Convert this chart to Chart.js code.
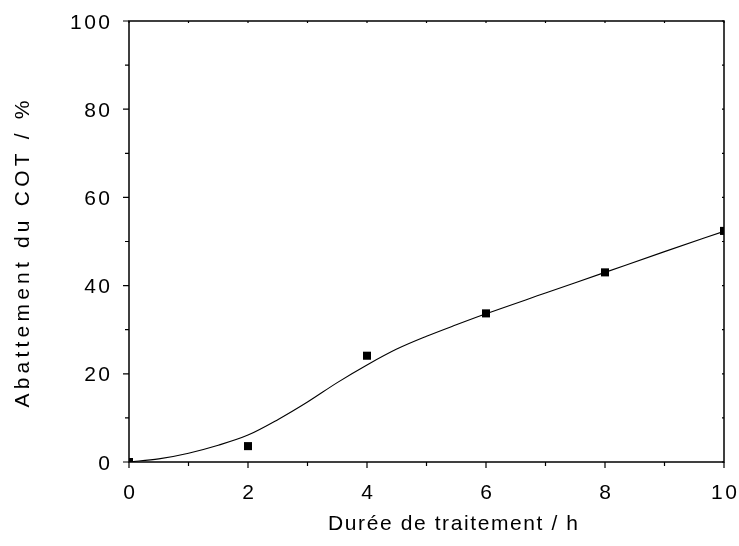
<!DOCTYPE html>
<html>
<head>
<meta charset="utf-8">
<script src="https://cdn.jsdelivr.net/npm/chart.js@4"></script>
<style>
  html, body { margin: 0; padding: 0; background: #fff; }
  #wrap { width: 739px; height: 546px; }
</style>
</head>
<body>
<div id="wrap"><canvas id="cotChart"></canvas></div>
<script>
// MESURES (points)
const dureeH = [0, 2, 4, 6, 8, 10];
const abattement = [0, 3.6, 24.1, 33.7, 43.0, 52.4];

// COURBE D'AJUSTEMENT
const fitX = [0, 0.5, 1, 1.5, 2, 2.5, 3, 3.5, 4, 4.5, 5, 5.5, 6, 7, 8, 9, 10];
const fitY = [0, 0.7, 2.0, 3.8, 6.1, 9.6, 13.6, 18.0, 22.0, 25.6, 28.5, 31.1, 33.6, 38.3, 43.0, 47.7, 52.3];

// AXES
const xTicks = [0, 2, 4, 6, 8, 10];
const xMinor = [1, 3, 5, 7, 9];
const yTicks = [0, 20, 40, 60, 80, 100];
const yMinor = [10, 30, 50, 70, 90];

const FONT = '"Liberation Sans", Arial, sans-serif';

// texte avec espacement des lettres, ancrage sur l'encre
function spacedText(ctx, txt, x, y, align, spacing) {
  ctx.letterSpacing = spacing + 'px';
  const w = ctx.measureText(txt).width - spacing;
  let x0 = x;
  if (align === 'center') x0 = x - w / 2;
  if (align === 'right') x0 = x - w;
  ctx.textAlign = 'left';
  ctx.fillText(txt, x0, y);
}

// cadre + graduations + libellés + titres d'axes
const framePlugin = {
  id: 'frame',
  afterDraw(chart) {
    const { ctx, chartArea: a, scales: { x, y } } = chart;
    ctx.save();
    ctx.strokeStyle = '#000';
    ctx.lineWidth = 1.5;
    ctx.strokeRect(a.left, a.top, a.right - a.left, a.bottom - a.top);

    ctx.lineWidth = 1.2;
    ctx.beginPath();
    const tickX = (vals, len, inLen) => {
      vals.forEach(v => {
        const px = x.getPixelForValue(v);
        ctx.moveTo(px, a.bottom); ctx.lineTo(px, a.bottom + len);
        ctx.moveTo(px, a.top); ctx.lineTo(px, a.top + inLen);
      });
    };
    const tickY = (vals, len, inLen) => {
      vals.forEach(v => {
        const py = y.getPixelForValue(v);
        ctx.moveTo(a.left, py); ctx.lineTo(a.left - len, py);
        ctx.moveTo(a.right, py); ctx.lineTo(a.right - inLen, py);
      });
    };
    tickX(xTicks, 6, 2);
    tickX(xMinor, 4, 2);
    tickY(yTicks, 6, 2);
    tickY(yMinor, 4, 2);
    ctx.stroke();

    ctx.fillStyle = '#000';
    ctx.textBaseline = 'alphabetic';
    ctx.font = '21px ' + FONT;
    xTicks.forEach(v => spacedText(ctx, String(v), x.getPixelForValue(v), 499, 'center', 2.5));
    yTicks.forEach(v => spacedText(ctx, String(v), 110, y.getPixelForValue(v) + 7.5, 'right', 2.5));

    // titres
    ctx.font = '21px ' + FONT;
    spacedText(ctx, 'Durée de traitement / h', 453, 530, 'center', 1.6);
    ctx.translate(29, 254);
    ctx.rotate(-Math.PI / 2);
    spacedText(ctx, 'Abattement du COT / %', 0, 0, 'center', 4.2);
    ctx.restore();
  }
};

new Chart(document.getElementById('cotChart').getContext('2d'), {
  type: 'scatter',
  data: {
    datasets: [
      {
        label: 'ajustement',
        type: 'line',
        data: fitX.map((v, i) => ({ x: v, y: fitY[i] })),
        borderColor: '#000',
        borderWidth: 1.1,
        pointRadius: 0,
        cubicInterpolationMode: 'monotone',
        fill: false
      },
      {
        label: 'mesures',
        data: dureeH.map((v, i) => ({ x: v, y: abattement[i] })),
        backgroundColor: '#000',
        borderWidth: 0,
        pointStyle: 'rect',
        pointRadius: 5.7
      }
    ]
  },
  options: {
    responsive: true,
    maintainAspectRatio: false,
    animation: false,
    layout: { padding: { top: 21, right: 15, left: 0, bottom: 0 } },
    plugins: { legend: { display: false }, tooltip: { enabled: false } },
    scales: {
      x: {
        type: 'linear', min: 0, max: 10,
        grid: { display: false },
        border: { display: false },
        ticks: { display: false },
        afterFit: s => { s.height = 84; }
      },
      y: {
        type: 'linear', min: 0, max: 100,
        grid: { display: false },
        border: { display: false },
        ticks: { display: false },
        afterFit: s => { s.width = 129; }
      }
    }
  },
  plugins: [framePlugin]
});
</script>
</body>
</html>
